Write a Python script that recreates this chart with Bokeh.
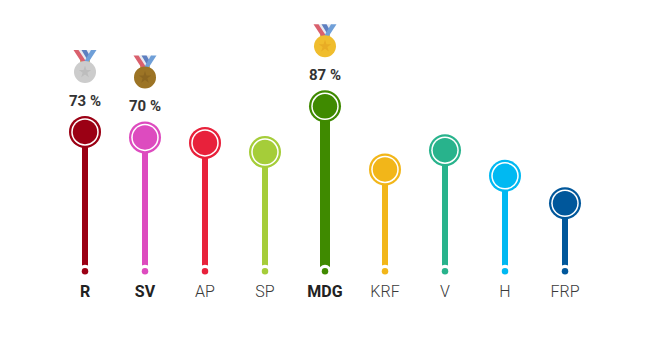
from bokeh.plotting import figure
from bokeh.embed import file_html
from bokeh.resources import INLINE
from bokeh.core.properties import value

parties = ["R", "SV", "AP", "SP", "MDG", "KRF", "V", "H", "FRP"]
values = [73, 70, 67, 62, 87, 52.5, 63, 49, 34]
colors = ["#9b0014", "#dd4bbf", "#e8213b", "#a5cd39", "#3f8a00", "#f2b619", "#28b38c", "#00b9f2", "#00579b"]
winners = ["R", "SV", "MDG"]
medal_colors = {"R": "#cccccc", "SV": "#9c7425", "MDG": "#f0bd2d"}
star_colors = {"R": "#bdbdbd", "SV": "#8c6620", "MDG": "#e8ac25"}
winner_labels = {"R": "73 %", "SV": "70 %", "MDG": "87 %"}

W, H = 637, 337
X0, DX = 84.5, 60.0      # first category pixel, category spacing
Y0, K = 265.0, 1.83      # pixel of zero from figure top, pixels per unit

p = figure(width=W, height=H, output_backend="svg", toolbar_location=None,
           x_range=(-X0 / DX, (W - X0) / DX),
           y_range=((Y0 - H) / K, Y0 / K),
           min_border=0, outline_line_color=None, background_fill_color="white")
p.axis.visible = False
p.grid.visible = False

dy = lambda px: px / K   # upward pixel offset to data units
dx = lambda px: px / DX

xs = list(range(len(parties)))
foot = [dy(-2) for _ in parties]
widths = [10 if n == "MDG" else 6 for n in parties]
p.segment(xs, foot, xs, values, line_color=colors, line_width=widths, line_cap="butt")

dot_y = [dy(-5.8) for _ in parties]
p.scatter(xs, dot_y, size=13, fill_color="white", line_color=None)
p.scatter(xs, dot_y, size=6.5, fill_color=colors, line_color=None)

p.scatter(xs, values, size=32, fill_color=colors, line_color=None)
p.scatter(xs, values, size=27.5, fill_color="white", line_color=None)
p.scatter(xs, values, size=24.5, fill_color=colors, line_color=None)

for i, n in enumerate(parties):
    bold = n in winners
    p.text([i], [dy(-26)], text=[n], text_align="center", text_baseline="middle",
           text_font=value("Roboto" if bold else "Roboto Light"), text_font_size="16px",
           text_font_style="bold" if bold else "normal",
           text_color="#222222" if bold else "#3a3a3a")

for n in winners:
    i = parties.index(n)
    v = values[i]
    p.text([i], [v + dy(31)], text=[winner_labels[n]], text_align="center", text_baseline="middle",
           text_font=value("Roboto"), text_font_size="15px", text_font_style="bold", text_color="#333333")
    cy = v + dy(60)
    top = cy + dy(22)
    mid = cy + dy(9)
    # ring
    p.patch([i - dx(5), i + dx(5), i + dx(5), i - dx(5)], [cy + dy(14), cy + dy(14), cy + dy(8), cy + dy(8)],
            fill_color="#d8b65a", line_color=None)
    # ribbon: pale backing, then red and blue bands
    p.patch([i - dx(7), i + dx(7), i + dx(3), i - dx(3)], [top, top, mid, mid], fill_color="#e8eaf0", line_color=None)
    p.patch([i - dx(11.5), i - dx(6.5), i + dx(2), i - dx(3)], [top, top, mid, mid], fill_color="#d9606d", line_color=None)
    p.patch([i - dx(3.5), i + dx(1.5), i + dx(6), i + dx(2.5)], [top, top, cy + dy(14), cy + dy(12)], fill_color="#5d7fc0", line_color=None)
    p.patch([i + dx(11.5), i + dx(6), i - dx(1.5), i + dx(3)], [top, top, mid, mid], fill_color="#6f9fd8", line_color=None)
    p.scatter([i], [cy], size=22, fill_color=medal_colors[n], line_color=None)
    p.scatter([i], [cy], size=13, marker="star", fill_color=star_colors[n], line_color=None)

open("out.html", "w").write(file_html(p, INLINE))
